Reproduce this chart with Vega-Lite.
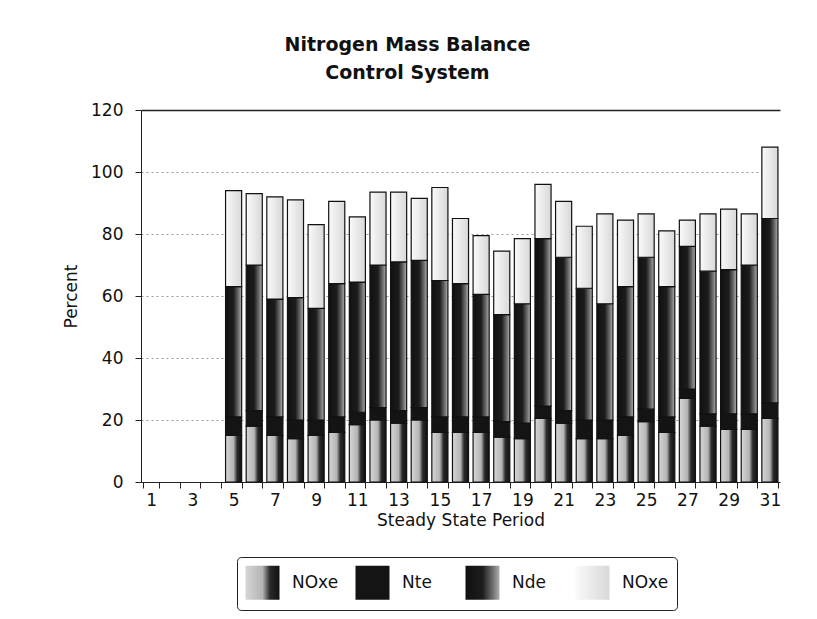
{
  "$schema": "https://vega.github.io/schema/vega-lite/v6.json",
  "autosize": "none",
  "width": 639,
  "height": 372,
  "padding": {"left": 141, "top": 110, "right": 37, "bottom": 137},
  "background": "white",
  "config": {
    "font": "DejaVu Sans",
    "view": {"stroke": null},
    "axis": {"labelColor": "#111", "titleColor": "#111", "domainColor": "#222", "tickColor": "#222", "labelFontSize": 17, "titleFontSize": 17, "titleFontWeight": "normal"}
  },
  "title": {
    "text": ["Nitrogen Mass Balance", "Control System"],
    "fontSize": 19,
    "fontWeight": "bold",
    "color": "#111",
    "lineHeight": 28,
    "anchor": "middle",
    "dx": -53,
    "offset": 18
  },
  "data": {
    "values": [
      {"period": 5, "NOxe_a": 15, "Nte": 6, "Nde": 42, "NOxe_b": 31},
      {"period": 6, "NOxe_a": 18, "Nte": 5, "Nde": 47, "NOxe_b": 23},
      {"period": 7, "NOxe_a": 15, "Nte": 6, "Nde": 38, "NOxe_b": 33},
      {"period": 8, "NOxe_a": 14, "Nte": 6, "Nde": 39.5, "NOxe_b": 31.5},
      {"period": 9, "NOxe_a": 15, "Nte": 5, "Nde": 36, "NOxe_b": 27},
      {"period": 10, "NOxe_a": 16, "Nte": 5, "Nde": 43, "NOxe_b": 26.5},
      {"period": 11, "NOxe_a": 18.5, "Nte": 4, "Nde": 42, "NOxe_b": 21},
      {"period": 12, "NOxe_a": 20, "Nte": 4, "Nde": 46, "NOxe_b": 23.5},
      {"period": 13, "NOxe_a": 19, "Nte": 4, "Nde": 48, "NOxe_b": 22.5},
      {"period": 14, "NOxe_a": 20, "Nte": 4, "Nde": 47.5, "NOxe_b": 20},
      {"period": 15, "NOxe_a": 16, "Nte": 5, "Nde": 44, "NOxe_b": 30},
      {"period": 16, "NOxe_a": 16, "Nte": 5, "Nde": 43, "NOxe_b": 21},
      {"period": 17, "NOxe_a": 16, "Nte": 5, "Nde": 39.5, "NOxe_b": 19},
      {"period": 18, "NOxe_a": 14.5, "Nte": 5, "Nde": 34.5, "NOxe_b": 20.5},
      {"period": 19, "NOxe_a": 14, "Nte": 5, "Nde": 38.5, "NOxe_b": 21},
      {"period": 20, "NOxe_a": 20.5, "Nte": 4, "Nde": 54, "NOxe_b": 17.5},
      {"period": 21, "NOxe_a": 19, "Nte": 4, "Nde": 49.5, "NOxe_b": 18},
      {"period": 22, "NOxe_a": 14, "Nte": 6, "Nde": 42.5, "NOxe_b": 20},
      {"period": 23, "NOxe_a": 14, "Nte": 6, "Nde": 37.5, "NOxe_b": 29},
      {"period": 24, "NOxe_a": 15, "Nte": 6, "Nde": 42, "NOxe_b": 21.5},
      {"period": 25, "NOxe_a": 19.5, "Nte": 4, "Nde": 49, "NOxe_b": 14},
      {"period": 26, "NOxe_a": 16, "Nte": 5, "Nde": 42, "NOxe_b": 18},
      {"period": 27, "NOxe_a": 27, "Nte": 3, "Nde": 46, "NOxe_b": 8.5},
      {"period": 28, "NOxe_a": 18, "Nte": 4, "Nde": 46, "NOxe_b": 18.5},
      {"period": 29, "NOxe_a": 17, "Nte": 5, "Nde": 46.5, "NOxe_b": 19.5},
      {"period": 30, "NOxe_a": 17, "Nte": 5, "Nde": 48, "NOxe_b": 16.5},
      {"period": 31, "NOxe_a": 20.5, "Nte": 5, "Nde": 59.5, "NOxe_b": 23}
    ]
  },
  "transform": [
    {"fold": ["NOxe_a", "Nte", "Nde", "NOxe_b"], "as": ["series", "value"]},
    {"calculate": "indexof(['NOxe_a', 'Nte', 'Nde', 'NOxe_b'], datum.series)", "as": "ord"},
    {"stack": "value", "groupby": ["period"], "sort": [{"field": "ord", "order": "ascending"}], "as": ["y0", "y1"]}
  ],
  "mark": {
    "type": "bar",
    "stroke": "#111",
    "strokeWidth": 1.2,
    "fill": {"expr": "(datum.series || datum.value) == 'NOxe_a' ? {gradient: 'linear', x1: 0, y1: 0, x2: 1, y2: 0, stops: [{offset: 0, color: '#d6d6d6'}, {offset: 0.5, color: '#b4b4b4'}, {offset: 0.72, color: '#2a2a2a'}, {offset: 1, color: '#111111'}]} : (datum.series || datum.value) == 'Nte' ? '#141414' : (datum.series || datum.value) == 'Nde' ? {gradient: 'linear', x1: 0, y1: 0, x2: 1, y2: 0, stops: [{offset: 0, color: '#111111'}, {offset: 0.5, color: '#1c1c1c'}, {offset: 0.8, color: '#6e6e6e'}, {offset: 1, color: '#b0b0b0'}]} : {gradient: 'linear', x1: 0, y1: 0, x2: 1, y2: 0, stops: [{offset: 0, color: '#fafafa'}, {offset: 1, color: '#d8d8d8'}]}"}
  },
  "encoding": {
    "x": {
      "field": "period",
      "type": "ordinal",
      "scale": {"domain": [1,2,3,4,5,6,7,8,9,10,11,12,13,14,15,16,17,18,19,20,21,22,23,24,25,26,27,28,29,30,31], "paddingInner": 0.22, "paddingOuter": 0.1},
      "axis": {
        "title": "Steady State Period",
        "labelAngle": 0,
        "labelExpr": "datum.value % 2 == 1 ? datum.label : ''",
        "tickBand": "extent",
        "tickSize": 6,
        "labelPadding": 4,
        "titlePadding": 4,
        "grid": false
      }
    },
    "y": {
      "field": "y0",
      "type": "quantitative",
      "scale": {"domain": [0, 120], "nice": false},
      "axis": {
        "title": "Percent",
        "values": [0, 20, 40, 60, 80, 100, 120],
        "tickSize": 6,
        "labelPadding": 12,
        "titlePadding": 10,
        "grid": true,
        "gridColor": {"condition": {"test": "datum.value == 120", "value": "#222"}, "value": "#999"},
        "gridDash": {"condition": {"test": "datum.value == 120", "value": []}, "value": [2, 3]},
        "gridWidth": {"condition": {"test": "datum.value == 120", "value": 1.5}, "value": 1}
      }
    },
    "y2": {"field": "y1"},
    "opacity": {
      "field": "series",
      "type": "nominal",
      "scale": {"domain": ["NOxe_a", "Nte", "Nde", "NOxe_b"], "range": [1, 1, 1, 1]},
      "legend": {
        "title": null,
        "orient": "none",
        "legendX": 96,
        "legendY": 447,
        "direction": "horizontal",
        "columns": 4,
        "gridAlign": "all",
        "symbolType": "square",
        "symbolSize": 1156,
        "symbolStrokeColor": "#111",
        "symbolStrokeWidth": 1,
        "labelFontSize": 17,
        "labelColor": "#111",
        "labelOffset": 12,
        "columnPadding": 14,
        "padding": 8,
        "strokeColor": "#222",
        "cornerRadius": 4,
        "labelExpr": "datum.label == 'NOxe_a' || datum.label == 'NOxe_b' ? 'NOxe' : datum.label"
      }
    }
  }
}
